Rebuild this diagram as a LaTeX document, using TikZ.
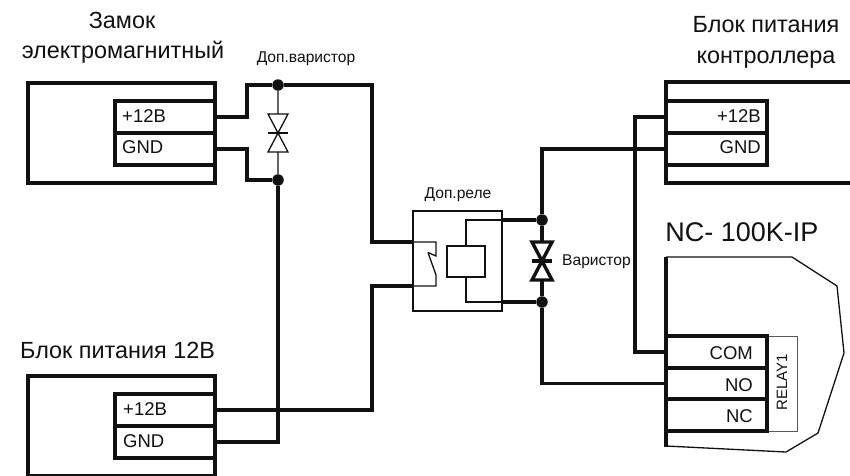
\documentclass[tikz,border=0pt]{standalone}
\usepackage{fontspec}
\setmainfont{Liberation Sans}
\usetikzlibrary{calc}
\definecolor{ink}{HTML}{111111}
\tikzset{
  wire/.style={draw=ink,line width=3.4pt,line join=miter},
  thin wire/.style={draw=ink,line width=1.3pt,line join=miter},
  frame/.style={draw=ink,line width=3.4pt},
  term/.style={draw=ink,line width=3.4pt,rectangle,anchor=north west,outer sep=0pt,inner sep=0pt,
    minimum width=#1,minimum height=32pt},
  term/.default=100pt,
  title/.style={font=\fontsize{23.4}{28}\selectfont,text=ink,inner sep=0pt},
  small/.style={font=\fontsize{15.6}{18}\selectfont,text=ink,inner sep=0pt},
  lab/.style={font=\fontsize{18.5}{22}\selectfont,text=ink,inner sep=0pt},
  dot/.style={circle,fill=ink,inner sep=0pt,minimum size=11.5pt,outer sep=0pt},
}
\begin{document}
\begin{tikzpicture}[x=1pt,y=-1pt]
\useasboundingbox (0,0) rectangle (850,475);
\clip (0,0) rectangle (850,475);
% Lock
\draw[frame] (28,83) rectangle (215,183);
\node[term=100pt] (lockp) at (115,101) {};
\node[term=100pt] (lockg) at (115,133) {};
\draw[frame] (115,165) -- (215,165);
\draw[frame] (115,133) -- (115,165);
\node[lab,anchor=west] (lockpt) at (122,116) {+12В};
\node[lab,anchor=west] (lockgt) at (122,147) {GND};
\node[title] (t1) at (122,20) {Замок};
\node[title] (t2) at (123,52) {электромагнитный};
% PSU 12
\draw[frame] (28,376) rectangle (215,476);
\node[term=100pt] (psup) at (115,394) {};
\node[term=100pt] (psug) at (115,426) {};
\node[lab,anchor=west] (psupt) at (123,409) {+12В};
\node[lab,anchor=west] (psugt) at (123,441) {GND};
\node[title,anchor=west] (t3) at (20,350) {Блок питания 12В};
% Left varistor
\node[dot] (va) at (278,85) {};
\node[dot] (vb) at (278,180) {};
\coordinate (vc) at (278,133);
\draw[thin wire] (va) -- ($(vc)+(0,-19)$) -- ++(-10,0) -- (vc) -- ($(vc)+(10,-19)$) -- ($(vc)+(0,-19)$);
\draw[thin wire] (vb) -- ($(vc)+(0,19)$) -- ++(-10,0) -- (vc) -- ($(vc)+(10,19)$) -- ($(vc)+(0,19)$);
\draw[thin wire] ($(vc)+(-10,0)$) -- ($(vc)+(10,0)$);
\node[small] (vl) at (306,59) {Доп.варистор};
% Relay
\node[draw=ink,line width=1.3pt,rectangle,anchor=north west,minimum width=89pt,minimum height=100pt,inner sep=0pt,outer sep=0pt] (rel) at (413,211) {};
\node[draw=ink,line width=1.3pt,rectangle,anchor=north west,minimum width=38pt,minimum height=31pt,inner sep=0pt,outer sep=0pt] (coil) at (447,246) {};
\coordinate (ct) at (502,220);
\coordinate (cb) at (502,302);
\coordinate (ra) at (413,242);
\coordinate (rb) at (413,286);
\draw[thin wire] (coil.north) |- (ct);
\draw[thin wire] (coil.south) |- (cb);
\draw[thin wire] (ra) -- (436,242) -- (436,256) -- (428,252.5);
\draw[thin wire] (rb) -- (436,286) -- (436,275) -- (428,252.5);
\node[small] (rl) at (458,195) {Доп.реле};
% Right varistor
\node[dot] (wa) at (542,220) {};
\node[dot] (wb) at (542,302) {};
\coordinate (wc) at (542,261);
\draw[wire] (wa) -- ($(wc)+(0,-19)$);
\draw[wire] (wb) -- ($(wc)+(0,19)$);
\draw[wire] ($(wc)+(-10,-19)$) -- ($(wc)+(10,-19)$) -- ($(wc)+(-10,19)$) -- ($(wc)+(10,19)$) -- cycle;
\draw[wire] ($(wc)+(-10,0)$) -- ($(wc)+(10,0)$);
\node[small,anchor=west] (wl) at (562,262) {Варистор};
% Controller PSU
\draw[frame] (850,82) -- (666,82) -- (666,183) -- (850,183);
\node[term=101pt] (cp) at (666,101) {};
\node[term=101pt] (cg) at (666,133) {};
\draw[frame] (666,165) -- (767,165);
\node[lab,anchor=east] (cpt) at (761,116) {+12В};
\node[lab,anchor=east] (cgt) at (761,147) {GND};
\node[title] (t4) at (766,25) {Блок питания};
\node[title] (t5) at (766,60) {контроллера};
% Controller
\draw[line width=1.3pt,draw=ink] (666,257) -- (792,257) -- (837,286) -- (844,353) -- (818,433) -- (786,452) -- (666,446);
\draw[frame] (666,257) -- (666,336);
\draw[frame] (666,431) -- (666,447);
\node[draw=ink!70,line width=.8pt,rectangle,anchor=north west,minimum width=30pt,minimum height=95pt,inner sep=0pt,outer sep=0pt] (rly) at (767,336) {};
\node[term=101pt] (com) at (666,336) {};
\node[term=101pt] (no) at (666,367.5) {};
\node[term=101pt] (nc) at (666,399) {};
\node[lab,anchor=east] (comt) at (753,353) {COM};
\node[lab,anchor=east] (not) at (753,385) {NO};
\node[lab,anchor=east] (nct) at (753,416) {NC};
\node[font=\fontsize{15}{18}\selectfont,text=ink,inner sep=0pt,rotate=90] (rlyt) at (782,382) {RELAY1};
\node[font=\fontsize{27}{32}\selectfont,text=ink,inner sep=0pt] (t6) at (742,232) {NC- 100K-IP};
% Wires
\draw[wire] (lockp.east) -- ++(32,0) |- (va);
\draw[wire] (va) -- (372,85) |- (ra);
\draw[wire] (lockg.east) -- ++(32,0) |- (vb);
\draw[wire] (vb) |- (psug.east);
\draw[wire] (psup.east) -- (372,410) |- (rb);
\draw[wire] (ct) -- (wa);
\draw[wire] (cb) -- (wb);
\draw[wire] (wa) |- (cg.west);
\draw[wire] (wb) |- (no.west);
\draw[wire] (cp.west) -- (635,117) |- (com.west);
\end{tikzpicture}
\end{document}
